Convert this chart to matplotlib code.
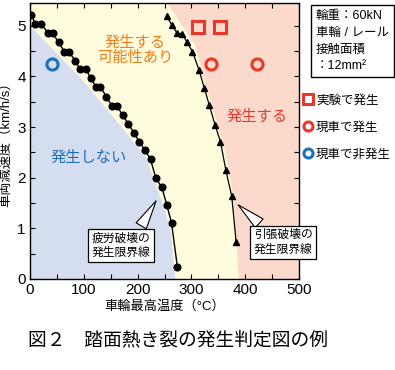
import matplotlib
matplotlib.use("Agg")
import matplotlib.pyplot as plt
from matplotlib.lines import Line2D
import numpy as np

plt.rcParams['font.family'] = ['Liberation Sans', 'Noto Sans CJK JP', 'DejaVu Sans']

#-------------------------------------------------------------------------------
# Data

# fatigue limit line (black circles)
fatigue_temp = [2, 10, 21, 33, 42, 53, 64, 72, 84, 93, 104, 113, 123, 131, 142, 152, 162,
                172, 183, 193, 203, 214, 224, 234, 245, 254, 263, 274]
fatigue_decel = [5.22, 5.04, 5.04, 4.86, 4.86, 4.67, 4.49, 4.49, 4.31, 4.14, 4.14, 3.96, 3.79,
                 3.79, 3.60, 3.42, 3.42, 3.23, 3.06, 2.89, 2.71, 2.54, 2.36, 1.99, 1.81, 1.47,
                 1.11, 0.23]

# tensile limit line (black triangles)
tensile_temp = [254, 263, 273, 283, 292, 302, 314, 324, 333, 344, 354, 364, 375, 383]
tensile_decel = [5.20, 5.02, 4.86, 4.84, 4.67, 4.49, 4.13, 3.77, 3.44, 3.04, 2.71, 2.15,
                 1.63, 0.74]

# observed cases
exp_temp = [312, 354]          # occurred in experiment
exp_decel = [4.97, 4.97]
car_temp = [336, 421]          # occurred on real vehicle
car_decel = [4.24, 4.24]
nocar_temp = [40]              # did not occur on real vehicle
nocar_decel = [4.24]

# region boundaries
blue_edge_temp = [0, 100, 215, 232, 250, 262, 270]
blue_edge_decel = [5.0, 3.9, 2.42, 1.90, 1.40, 0.90, 0.0]
pink_edge_temp = [255, 307, 322, 335, 362, 378, 388]
pink_edge_decel = [5.45, 4.62, 4.00, 3.54, 2.55, 1.63, 0.0]

#-------------------------------------------------------------------------------

RED = "#e8382b"
BLUE = "#1f6fb8"
ORANGE = "#f07d1a"
YMAX = 5.45


def draw_regions(ax):
  """ Background colour regions. """
  ax.set_facecolor("#fffbdd")
  ax.fill(blue_edge_temp + [0], blue_edge_decel + [0], color="#d5def0", lw=0, zorder=0)
  ax.fill(pink_edge_temp + [500, 500], pink_edge_decel + [0, YMAX], color="#fbd9cb",
          lw=0, zorder=0)


def draw_limits(ax):
  ax.plot(fatigue_temp, fatigue_decel, color="black", lw=1.0, marker="o", ms=4.8, zorder=3)
  ax.plot(tensile_temp, tensile_decel, color="black", lw=0.9, marker="^", ms=4.3, zorder=3)


def draw_cases(ax):
  ax.plot(exp_temp, exp_decel, ls="", marker="s", ms=8, mfc="none", mec=RED, mew=2.2, zorder=4)
  ax.plot(car_temp, car_decel, ls="", marker="o", ms=8, mfc="none", mec=RED, mew=2.2, zorder=4)
  ax.plot(nocar_temp, nocar_decel, ls="", marker="o", ms=8, mfc="none", mec=BLUE, mew=2.2, zorder=4)


def draw_callout(ax, text, xy, xytext, relpos):
  ax.annotate(text, xy=xy, xytext=xytext, textcoords="data", fontsize=8.5,
              ha="center", va="center", linespacing=1.3, annotation_clip=False,
              bbox=dict(boxstyle="square,pad=0.3", fc="white", ec="black", lw=0.9),
              arrowprops=dict(arrowstyle="wedge,tail_width=1.0,shrink_factor=0.5",
                              fc="white", ec="black", lw=0.8, relpos=relpos),
              zorder=6).set_clip_on(False)


def main():
  fig = plt.figure(figsize=(3.95, 3.7), dpi=100)
  ax = fig.add_axes([0.076, 0.246, 0.681, 0.746])

  draw_regions(ax)
  draw_limits(ax)
  draw_cases(ax)

  ax.text(195, 4.52, "発生する\n可能性あり", color=ORANGE, fontsize=11, ha="center",
          va="center", linespacing=1.05)
  ax.text(422, 3.20, "発生する", color=RED, fontsize=11, ha="center", va="center")
  ax.text(110, 2.39, "発生しない", color=BLUE, fontsize=11, ha="center", va="center")

  draw_callout(ax, "疲労破壊の\n発生限界線", xy=(237, 1.59), xytext=(169, 0.66), relpos=(0.78, 1.0))
  draw_callout(ax, "引張破壊の\n発生限界線", xy=(383, 1.50), xytext=(471, 0.72), relpos=(0.2, 1.0))

  ax.set_xlim(0, 500)
  ax.set_ylim(0, YMAX)
  ax.set_xticks(np.arange(0, 501, 100))
  ax.set_xticks(np.arange(0, 501, 50), minor=True)
  ax.set_yticks(np.arange(0, 6, 1))
  ax.set_yticks(np.arange(0, 5.5, 0.5), minor=True)
  ax.tick_params(which="both", direction="in", top=True, right=True, length=3.5,
                 width=0.8, labelsize=11, pad=3)
  for sp in ax.spines.values():
    sp.set_linewidth(1.0)

  ax.set_xlabel("車輪最高温度（°C）", fontsize=9.5)
  ax.xaxis.set_label_coords(0.5, -0.078)
  ax.set_ylabel("車両減速度（km/h/s）", fontsize=9.5)
  ax.yaxis.set_label_coords(-0.068, 0.5)

  # condition box
  fig.text(0.800, 0.974, "輪重：60kN\n車輪 / レール\n接触面積\n：12mm²", fontsize=9,
           ha="left", va="top", linespacing=1.55,
           bbox=dict(boxstyle="square,pad=0.4", fc="white", ec="black", lw=1.0))

  # legend
  handles = [
    Line2D([], [], ls="", marker="s", ms=6.5, mfc="none", mec=RED, mew=2.2, label="実験で発生"),
    Line2D([], [], ls="", marker="o", ms=6.5, mfc="none", mec=RED, mew=2.2, label="現車で発生"),
    Line2D([], [], ls="", marker="o", ms=6.5, mfc="none", mec=BLUE, mew=2.2, label="現車で非発生"),
  ]
  fig.legend(handles=handles, loc="upper left", bbox_to_anchor=(0.770, 0.745),
             frameon=False, fontsize=9, handlelength=0.6, handletextpad=0.35,
             labelspacing=1.2, borderpad=0.0, borderaxespad=0.0)

  fig.text(28 / 395, 1 - 340 / 370, "図２　踏面熱き裂の発生判定図の例", fontsize=13.5,
           ha="left", va="center")

  fig.savefig("out.png", dpi=100)
  plt.close(fig)


if __name__ == "__main__":
  main()
